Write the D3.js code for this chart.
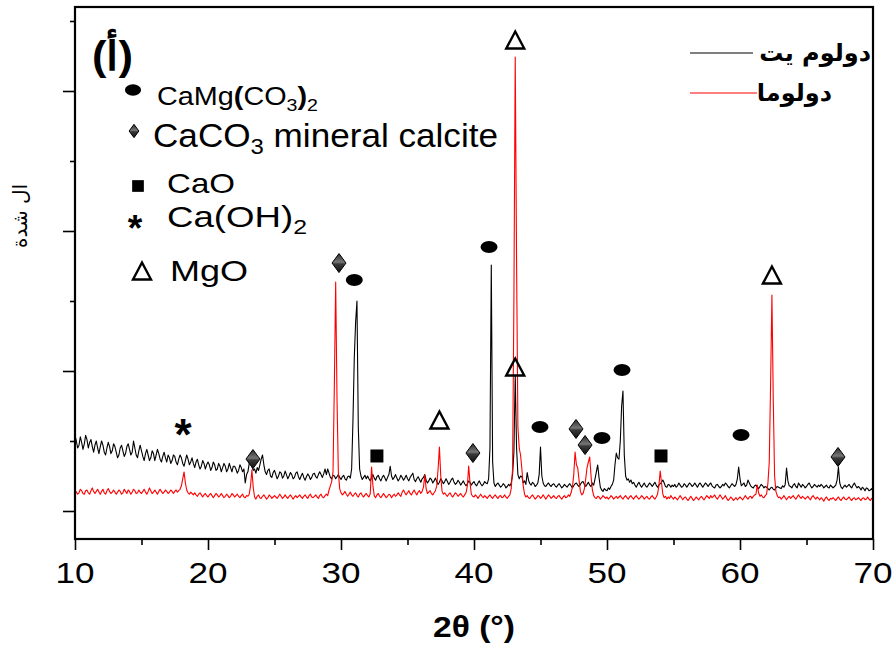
<!DOCTYPE html>
<html>
<head>
<meta charset="utf-8">
<script src="https://cdn.jsdelivr.net/npm/d3@7"></script>
<style>
  body { margin: 0; background: #fff; }
  text { font-family: "Liberation Sans", Arial, sans-serif; }
  .ar { font-family: "DejaVu Sans", sans-serif; }
</style>
</head>
<body>
<div id="chart"></div>
<script>
// 2theta scan grid (degrees)
const thetaStart = 10, thetaStep = 0.1;

// black trace, one row per degree (x.0 .. x.9)
const dolomiteRaw = [
  540,500,450,470,530,490,440,480,540,510,
  450,490,510,460,420,470,500,450,410,460,
  500,470,420,400,450,490,460,410,430,480,
  460,420,380,400,450,470,430,390,410,460,
  480,440,400,420,500,450,400,380,430,470,
  430,390,360,410,440,400,360,380,430,410,
  360,400,440,410,370,350,390,420,380,350,
  400,380,340,360,400,390,350,330,370,400,
  380,340,320,360,400,370,330,350,380,340,
  310,350,370,330,300,320,360,340,300,330,
  350,330,290,310,350,330,290,300,340,320,
  280,310,340,320,280,300,340,310,280,320,
  320,300,270,290,330,310,280,300,200,260,
  280,340,360,320,290,300,270,310,290,330,
  370,400,330,280,260,290,300,250,240,275,
  290,260,230,250,280,270,235,250,285,260,
  230,250,275,260,230,240,270,280,245,225,
  250,270,240,220,245,265,250,225,240,265,
  270,245,235,260,280,260,240,265,300,260,
  300,270,240,230,255,250,230,245,260,240,
  225,245,255,230,220,245,250,235,300,650,
  1100,1350,1500,600,300,250,225,240,255,230,
  250,230,215,240,260,235,220,245,255,230,
  215,240,255,235,215,240,260,320,250,225,
  240,260,235,215,230,255,240,220,235,255,
  230,215,240,255,270,225,210,230,245,225,
  205,230,240,260,220,200,215,235,225,200,
  215,235,210,190,205,230,215,195,210,230,
  210,190,205,225,235,205,190,200,220,205,
  185,200,215,195,180,195,215,205,185,200,
  210,190,180,200,215,195,180,190,210,200,
  195,230,450,1757,350,200,175,190,200,185,
  170,180,195,185,165,175,190,180,200,260,
  420,971,450,260,230,250,245,200,215,190,
  275,220,195,185,205,195,175,185,200,260,
  457,250,200,180,175,190,200,185,175,190,
  195,180,170,185,195,180,165,175,190,180,
  170,185,195,180,165,180,195,200,185,175,
  190,205,210,190,175,190,205,185,175,200,
  185,230,280,329,240,170,150,140,160,150,
  145,165,155,175,190,220,330,414,380,370,
  500,750,857,400,250,220,230,205,221,195,
  205,185,170,190,205,185,170,185,200,180,
  170,185,200,190,175,190,205,185,170,185,
  195,205,221,200,175,170,190,185,170,185,
  175,190,170,180,200,185,170,175,195,185,
  170,185,200,190,175,185,200,185,170,190,
  200,185,170,185,200,190,175,190,200,180,
  170,165,185,190,175,165,175,190,180,200,
  190,175,165,180,195,185,175,190,230,314,
  230,180,190,200,175,185,221,200,180,170,
  165,180,185,170,160,175,190,180,165,175,
  170,160,150,165,170,155,150,165,175,170,
  165,160,180,170,190,307,215,180,175,165,
  185,195,175,165,200,185,170,190,180,165,
  175,190,200,180,165,175,190,180,170,185,
  175,190,180,165,175,185,170,165,185,175,
  165,175,185,220,314,200,170,160,175,185,
  170,180,190,175,165,185,200,180,165,175,
  165,150,170,160,145,165,160,145,150,160,
  140
];

// red trace
const dolomaCalc = [
  150,135,120,130,155,145,125,120,145,150,
  130,120,145,165,140,125,140,155,135,120,
  140,155,130,120,145,160,140,125,135,150,
  135,120,135,150,140,120,130,155,140,125,
  150,140,120,135,155,145,125,130,150,135,
  125,140,155,135,120,140,165,145,125,135,
  150,135,120,140,155,140,125,135,150,140,
  125,135,150,140,125,140,150,135,145,155,
  180,230,279,200,150,130,120,135,125,115,
  130,115,105,120,130,115,100,115,125,110,
  100,115,125,110,95,110,125,115,100,110,
  125,110,95,105,120,110,95,105,125,115,
  100,110,120,105,95,110,120,100,95,110,
  105,120,180,293,170,100,85,105,115,95,
  90,105,115,100,85,95,115,105,90,100,
  110,100,90,105,120,105,90,100,115,100,
  90,105,115,100,85,100,110,95,105,115,
  100,90,105,115,100,90,110,120,100,95,
  105,115,100,90,110,120,100,95,110,120,
  110,150,180,210,280,900,1636,800,280,160,
  130,115,125,140,120,105,120,135,115,105,
  120,130,110,100,120,130,110,100,115,125,
  110,100,125,314,180,110,95,115,125,105,
  95,110,125,110,95,105,120,115,95,110,
  120,105,115,130,115,105,135,150,130,115,
  130,145,125,115,135,150,130,115,135,145,
  125,140,170,257,160,125,135,145,125,115,
  130,145,180,300,457,250,140,120,130,115,
  105,120,130,110,100,115,130,120,105,115,
  125,110,100,115,130,180,321,200,120,105,
  100,115,105,90,105,120,105,95,110,100,
  90,105,115,100,90,105,115,100,90,105,
  110,95,100,115,100,90,105,115,160,300,
  1500,3243,1800,600,450,400,300,180,120,100,
  110,95,90,105,115,100,85,95,110,105,
  90,100,115,100,85,100,115,105,90,100,
  110,95,90,105,110,95,85,100,110,95,
  100,115,105,130,170,260,421,330,307,220,
  140,115,125,160,230,310,350,386,250,150,
  110,95,90,105,100,85,95,110,100,90,
  100,85,95,110,100,85,95,105,90,100,
  110,95,85,100,110,95,85,100,110,95,
  85,100,110,95,85,95,110,100,85,95,
  105,90,85,100,110,95,85,100,120,180,
  286,200,120,95,105,85,100,90,110,95,
  85,100,90,80,95,110,95,80,95,100,
  85,75,90,105,90,75,85,100,90,80,
  95,105,90,80,95,110,100,90,110,95,
  105,115,95,85,100,115,100,85,95,110,
  90,75,85,100,90,75,85,95,80,90,
  100,90,80,95,110,95,85,100,105,90,
  105,115,120,186,130,105,115,100,95,110,
  120,200,350,900,1543,800,250,140,110,95,
  100,85,95,110,95,80,95,105,90,100,
  110,95,85,100,115,100,90,105,95,85,
  95,105,90,80,100,110,95,85,100,90,
  80,95,85,70,90,100,85,75,90,85,
  95,85,75,90,100,85,75,90,100,85,
  80,90,100,85,75,90,95,80,85,95,
  85,75,90,95,80,85,100,85,75,90,
  95
];

const seriesNames = ["دولوم يت", "دولوما"];
const seriesColors = ["#000000", "#ff0000"];

// phase markers: [2theta, intensity, phase]
const phaseMarks = [
  [43.1, 3364, "MgO"], [43.1, 1029, "MgO"], [37.4, 650, "MgO"], [62.4, 1686, "MgO"],
  [29.85, 1771, "CaCO3"], [47.67, 586, "CaCO3"], [48.35, 471, "CaCO3"],
  [67.37, 386, "CaCO3"], [39.92, 414, "CaCO3"], [23.38, 371, "CaCO3"],
  [31.0, 1650, "dolomite"], [41.13, 1886, "dolomite"], [44.96, 600, "dolomite"],
  [49.62, 521, "dolomite"], [51.13, 1007, "dolomite"], [60.08, 543, "dolomite"],
  [54.06, 393, "CaO"], [32.7, 393, "CaO"],
  [18.12, 579, "CaOH2"]
];

const xTicks = [10, 20, 30, 40, 50, 60, 70];
const xMinorTicks = [15, 25, 35, 45, 55, 65];
const yTicks = [0, 1000, 2000, 3000];
const yMinorTicks = [500, 1500, 2500, 3500];

const W = 896, H = 652;
const svg = d3.select("#chart").append("svg")
  .attr("width", W).attr("height", H)
  .style("background", "#fff");

const x = d3.scaleLinear().domain([10, 70]).range([75, 873]);
const y = d3.scaleLinear().domain([-200, 3600]).range([539, 7]);

// diamond shading
const grad = svg.append("defs").append("linearGradient")
  .attr("id", "dia").attr("x1", 0).attr("y1", 0).attr("x2", 0).attr("y2", 1);
grad.append("stop").attr("offset", "0%").attr("stop-color", "#2a2a2a");
grad.append("stop").attr("offset", "45%").attr("stop-color", "#777");
grad.append("stop").attr("offset", "55%").attr("stop-color", "#3a3a3a");
grad.append("stop").attr("offset", "100%").attr("stop-color", "#111");

// traces
const line = d3.line()
  .x((d, i) => x(thetaStart + i * thetaStep))
  .y(d => y(d));

[dolomiteRaw, dolomaCalc].forEach((s, k) => {
  svg.append("path")
    .datum(s)
    .attr("fill", "none")
    .attr("stroke", seriesColors[k])
    .attr("stroke-width", 1.1)
    .attr("stroke-linejoin", "round")
    .attr("d", line);
});

// marker drawing
function drawMark(g, type, cx, cy, s) {
  s = s || 1;
  if (type === "dolomite") {
    g.append("ellipse").attr("cx", cx).attr("cy", cy)
      .attr("rx", 8.5 * s).attr("ry", 6 * s).attr("fill", "#000");
  } else if (type === "CaCO3") {
    const w = 7 * s, h = 9.5 * s;
    g.append("path")
      .attr("d", `M${cx},${cy - h}L${cx + w},${cy}L${cx},${cy + h}L${cx - w},${cy}Z`)
      .attr("fill", "url(#dia)").attr("stroke", "#000").attr("stroke-width", 1);
  } else if (type === "CaO") {
    const a = 6.5 * s;
    g.append("rect").attr("x", cx - a).attr("y", cy - a)
      .attr("width", 2 * a).attr("height", 2 * a).attr("fill", "#000");
  } else if (type === "MgO") {
    const w = 9 * s, h = 8.5 * s;
    g.append("path")
      .attr("d", `M${cx},${cy - h}L${cx + w},${cy + h}L${cx - w},${cy + h}Z`)
      .attr("fill", "none").attr("stroke", "#000")
      .attr("stroke-width", 2.4).attr("stroke-linejoin", "miter");
  } else if (type === "CaOH2") {
    g.append("text").attr("x", cx).attr("y", cy + 20 * s)
      .attr("text-anchor", "middle")
      .attr("font-size", 44 * s).attr("font-weight", "bold")
      .text("*");
  }
}

const marks = svg.append("g");
phaseMarks.forEach(d => drawMark(marks, d[2], x(d[0]), y(d[1])));

// axes
const axisStyle = g => {
  g.selectAll(".domain").remove();
  g.selectAll("line").attr("stroke", "#000").attr("stroke-width", 1.6);
};

svg.append("g")
  .attr("transform", "translate(0,539)")
  .call(d3.axisBottom(x).tickValues(xTicks).tickSize(11).tickFormat(""))
  .call(axisStyle);
svg.append("g")
  .attr("transform", "translate(0,539)")
  .call(d3.axisBottom(x).tickValues(xMinorTicks).tickSize(6).tickFormat(""))
  .call(axisStyle);
svg.append("g")
  .attr("transform", "translate(75,0)")
  .call(d3.axisLeft(y).tickValues(yTicks).tickSize(12).tickFormat(""))
  .call(axisStyle);
svg.append("g")
  .attr("transform", "translate(75,0)")
  .call(d3.axisLeft(y).tickValues(yMinorTicks).tickSize(5).tickFormat(""))
  .call(axisStyle);

// frame
svg.append("rect")
  .attr("x", 75).attr("y", 7)
  .attr("width", 873 - 75).attr("height", 539 - 7)
  .attr("fill", "none").attr("stroke", "#000").attr("stroke-width", 2.2);

// tick labels
svg.append("g").selectAll("text")
  .data(xTicks).join("text")
  .attr("x", d => x(d)).attr("y", 583)
  .attr("text-anchor", "middle")
  .attr("font-size", 30)
  .attr("textLength", 39).attr("lengthAdjust", "spacingAndGlyphs")
  .text(d => d);

// axis titles
svg.append("text")
  .attr("x", 433).attr("y", 637)
  .attr("font-size", 29).attr("font-weight", "bold")
  .attr("textLength", 82).attr("lengthAdjust", "spacingAndGlyphs")
  .text("2θ (°)");

svg.append("text")
  .attr("class", "ar")
  .attr("transform", "translate(27,216) rotate(-90)")
  .attr("text-anchor", "middle")
  .attr("font-size", 20)
  .text("ال شدة");

// panel label
svg.append("text")
  .attr("x", 92).attr("y", 70)
  .attr("font-size", 40).attr("font-weight", "bold")
  .attr("textLength", 41).attr("lengthAdjust", "spacingAndGlyphs")
  .text("(أ)");

// phase legend
const leg = svg.append("g");
drawMark(leg, "dolomite", 133, 90, 0.95);
drawMark(leg, "CaCO3", 134, 131, 0.7);
drawMark(leg, "CaO", 138, 186, 0.9);
drawMark(leg, "CaOH2", 135, 224, 0.85);
drawMark(leg, "MgO", 142, 271, 1);

function legText(xp, yp, size, len, parts) {
  const t = leg.append("text").attr("x", xp).attr("y", yp)
    .attr("font-size", size)
    .attr("textLength", len).attr("lengthAdjust", "spacingAndGlyphs");
  parts.forEach(p => {
    const ts = t.append("tspan").text(p[0]);
    if (p[1] === "sub") ts.attr("font-size", size * 0.68).attr("dy", size * 0.22);
    if (p[1] === "up") ts.attr("dy", -size * 0.22);
    if (p[1] === "bold") ts.attr("font-weight", "bold");
    if (p[1] === "upbold") ts.attr("font-weight", "bold").attr("dy", -size * 0.22);
  });
}
legText(157, 105, 25, 161, [["CaMg"], ["(", "bold"], ["CO"], ["3", "sub"], [")", "upbold"], ["2", "sub"]]);
legText(153, 147, 33, 345, [["CaCO"], ["3", "sub"], [" mineral calcite", "up"]]);
legText(167, 193, 28, 68, [["CaO"]]);
legText(167, 227, 30, 140, [["Ca(OH)"], ["2", "sub"]]);
legText(170, 281, 30, 78, [["MgO"]]);

// series legend
const sl = svg.append("g");
[[53, 753, 871, 24], [93, 757, 832, 24]].forEach((r, k) => {
  sl.append("line")
    .attr("x1", 690).attr("x2", r[1]).attr("y1", r[0]).attr("y2", r[0])
    .attr("stroke", seriesColors[k]).attr("stroke-width", 1.1);
  sl.append("text")
    .attr("class", "ar")
    .attr("x", r[2]).attr("y", r[0] + 8)
    .attr("text-anchor", "end")
    .attr("font-size", r[3]).attr("font-weight", "bold")
    .text(seriesNames[k]);
});
</script>
</body>
</html>
